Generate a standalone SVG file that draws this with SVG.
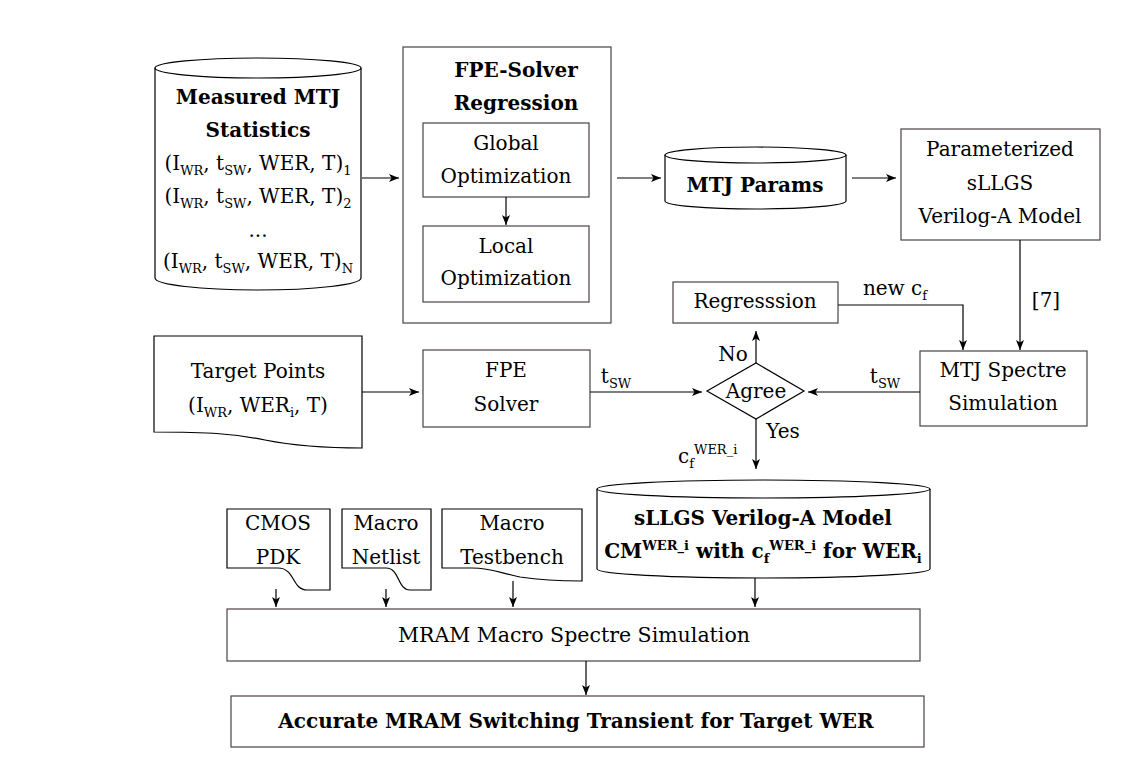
<svg xmlns="http://www.w3.org/2000/svg" width="1132" height="767" viewBox="0 0 1132 767">
<defs>
<marker id="arr" markerWidth="10" markerHeight="8" refX="10" refY="4" orient="auto" markerUnits="userSpaceOnUse">
<path d="M0,0 L10,4 L0,8 L2.5,4 Z" fill="#000"/>
</marker>
<style>
text{font-family:"DejaVu Serif",serif;font-size:20px;fill:#000;text-anchor:middle}
.b{font-weight:bold}
.s{font-size:13px}
.box{fill:#fff;stroke:#4d4141;stroke-width:1.2}
.cyl{fill:#fff;stroke:#000;stroke-width:1.2}
.doc{fill:#fff;stroke:#000;stroke-width:1.2}
.c{fill:none;stroke:#000;stroke-width:1.2;marker-end:url(#arr)}
.l{fill:none;stroke:#000;stroke-width:1.2}
</style>
</defs>
<rect width="1132" height="767" fill="#fff"/>

<g id="measured">
<path class="cyl" d="M155,68 A103,10 0 0 1 361,68 V278 A103,12 0 0 1 155,278 Z" stroke-width="1.8"/>
<path class="l" d="M155,68 A103,10 0 0 0 361,68" stroke-width="1.8"/>
<text class="b" x="258" y="104">Measured MTJ</text>
<text class="b" x="258" y="137">Statistics</text>
<text x="258" y="170">(I<tspan class="s" dy="5">WR</tspan><tspan dy="-5">, t</tspan><tspan class="s" dy="5">SW</tspan><tspan dy="-5">, WER, T)</tspan><tspan class="s" dy="5">1</tspan></text>
<text x="258" y="203">(I<tspan class="s" dy="5">WR</tspan><tspan dy="-5">, t</tspan><tspan class="s" dy="5">SW</tspan><tspan dy="-5">, WER, T)</tspan><tspan class="s" dy="5">2</tspan></text>
<text x="258" y="237">...</text>
<text x="258" y="268">(I<tspan class="s" dy="5">WR</tspan><tspan dy="-5">, t</tspan><tspan class="s" dy="5">SW</tspan><tspan dy="-5">, WER, T)</tspan><tspan class="s" dy="5">N</tspan></text>
</g>

<g id="fpe-regression">
<rect class="box" x="403" y="47" width="208" height="276"/>
<text class="b" x="516" y="77">FPE-Solver</text>
<text class="b" x="516" y="110">Regression</text>
</g>
<g id="global-opt">
<rect class="box" x="423" y="123" width="166" height="74"/>
<text x="506" y="150">Global</text>
<text x="506" y="183">Optimization</text>
</g>
<g id="local-opt">
<rect class="box" x="423" y="226" width="166" height="76"/>
<text x="506" y="253">Local</text>
<text x="506" y="285">Optimization</text>
</g>

<g id="mtj-params">
<path class="cyl" d="M665,155 A90.5,8 0 0 1 846,155 V201 A90.5,8 0 0 1 665,201 Z"/>
<path class="l" d="M665,155 A90.5,8 0 0 0 846,155"/>
<text class="b" x="755" y="192">MTJ Params</text>
</g>

<g id="parameterized">
<rect class="box" x="901" y="129" width="199" height="111"/>
<text x="1000" y="156">Parameterized</text>
<text x="1000" y="190">sLLGS</text>
<text x="1000" y="223">Verilog-A Model</text>
</g>

<g id="regression">
<rect class="box" x="673" y="282" width="165" height="41"/>
<text x="755" y="308">Regresssion</text>
</g>

<g id="target-points">
<path class="doc" d="M154,336 H362 V448 C325,448 295,446 265,440 C235,434 210,432 154,432 Z"/>
<text x="258" y="378">Target Points</text>
<text x="258" y="412">(I<tspan class="s" dy="5">WR</tspan><tspan dy="-5">, WER</tspan><tspan class="s" dy="5">i</tspan><tspan dy="-5">, T)</tspan></text>
</g>

<g id="fpe-solver">
<rect class="box" x="423" y="350" width="167" height="77"/>
<text x="506" y="377">FPE</text>
<text x="506" y="411">Solver</text>
</g>

<g id="agree">
<path class="cyl" d="M707,391 L756,363 L804,391 L756,419 Z"/>
<text x="756" y="398">Agree</text>
</g>

<g id="mtj-spectre">
<rect class="box" x="920" y="351" width="167" height="75"/>
<text x="1003" y="377">MTJ Spectre</text>
<text x="1003" y="410">Simulation</text>
</g>

<g id="sllgs-model">
<path class="cyl" d="M597,489 A166.5,9 0 0 1 930,489 V569 A166.5,9 0 0 1 597,569 Z"/>
<path class="l" d="M597,489 A166.5,9 0 0 0 930,489"/>
<text class="b" x="763" y="525">sLLGS Verilog-A Model</text>
<text class="b" x="763" y="558">CM<tspan style="font-size:13px" dy="-8">WER_i</tspan><tspan dy="8"> with c</tspan><tspan style="font-size:13px" dy="5">f</tspan><tspan style="font-size:13px" dy="-13">WER_i</tspan><tspan dy="8"> for WER</tspan><tspan style="font-size:13px" dy="5">i</tspan></text>
</g>

<g id="cmos-pdk">
<path class="doc" d="M227,509 H330 V590 H307 C292,590 295,568 278,568 H227 Z"/>
<text x="278" y="530">CMOS</text>
<text x="278" y="564">PDK</text>
</g>
<g id="macro-netlist">
<path class="doc" d="M342,509 H431 V590 H410 C397,590 400,568 386,568 H342 Z"/>
<text x="386" y="530">Macro</text>
<text x="386" y="564">Netlist</text>
</g>
<g id="macro-testbench">
<path class="doc" d="M442,509 H582 V581 C560,581 540,580 520,577 C500,573 492,568 472,568 H442 Z"/>
<text x="512" y="530">Macro</text>
<text x="512" y="564">Testbench</text>
</g>

<g id="mram-macro">
<rect class="box" x="227" y="609" width="693" height="52"/>
<text x="574" y="642" style="font-size:20.5px">MRAM Macro Spectre Simulation</text>
</g>
<g id="accurate">
<rect class="box" x="231" y="696" width="693" height="51"/>
<text class="b" x="576" y="728">Accurate MRAM Switching Transient for Target WER</text>
</g>

<g id="connectors">
<path class="c" d="M362,178 H399"/>
<path class="c" d="M506,197 V225"/>
<path class="c" d="M617,178 H661"/>
<path class="c" d="M852,178 H896"/>
<path class="c" d="M1020,240 V350"/>
<path class="c" d="M838,305 H963 V350"/>
<path class="c" d="M362,392 H419"/>
<path class="c" d="M590,392 H702"/>
<path class="c" d="M920,392 H808"/>
<path class="c" d="M756,363 V331"/>
<path class="c" d="M756,419 V469"/>
<path class="c" d="M276,589 V607"/>
<path class="c" d="M386,589 V607"/>
<path class="c" d="M513,581 V607"/>
<path class="c" d="M755,578 V607"/>
<path class="c" d="M586,661 V695"/>
<text x="616" y="383">t<tspan class="s" dy="5">SW</tspan></text>
<text x="885" y="383">t<tspan class="s" dy="5">SW</tspan></text>
<text x="895" y="295">new c<tspan class="s" dy="5">f</tspan></text>
<text x="1046" y="307">[7]</text>
<text x="733" y="361">No</text>
<text x="783" y="438">Yes</text>
<text x="678" y="463" style="text-anchor:start">c<tspan class="s" dy="5">f</tspan><tspan class="s" dy="-14">WER_i</tspan></text>
</g>
</svg>
